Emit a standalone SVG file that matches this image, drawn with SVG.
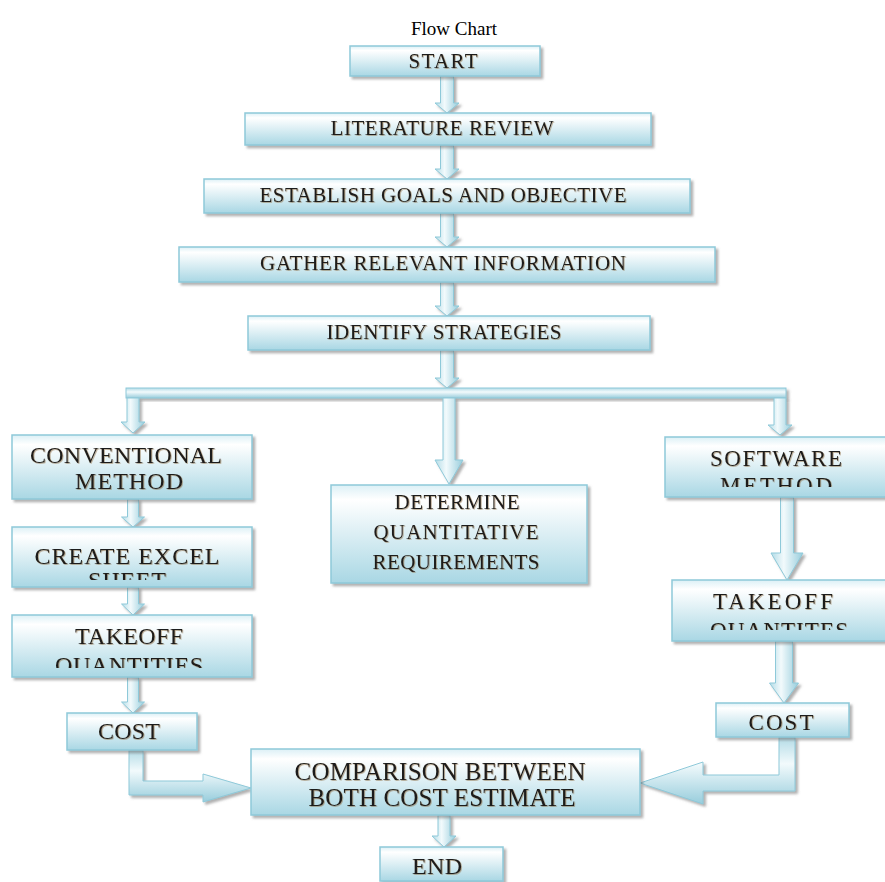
<svg xmlns="http://www.w3.org/2000/svg" width="885" height="882" viewBox="0 0 885 882">
<defs>
<linearGradient id="gBox" x1="0" y1="0" x2="0" y2="1">
<stop offset="0" stop-color="#dcf0f6"/>
<stop offset="0.15" stop-color="#ffffff"/>
<stop offset="1" stop-color="#a9d7e4"/>
</linearGradient>
<linearGradient id="gArrV" x1="0" y1="0" x2="1" y2="0">
<stop offset="0" stop-color="#b3dbe6"/>
<stop offset="0.4" stop-color="#f2fafc"/>
<stop offset="1" stop-color="#98cddc"/>
</linearGradient>
<linearGradient id="gArrH" x1="0" y1="0" x2="0" y2="1">
<stop offset="0" stop-color="#b3dbe6"/>
<stop offset="0.4" stop-color="#f2fafc"/>
<stop offset="1" stop-color="#98cddc"/>
</linearGradient>
<filter id="sh" x="-10%" y="-20%" width="130%" height="160%">
<feDropShadow dx="2.5" dy="2.5" stdDeviation="1.2" flood-color="#707070" flood-opacity="0.55"/>
</filter>
<filter id="tsh" x="-5%" y="-20%" width="110%" height="150%">
<feDropShadow dx="0.8" dy="0.8" stdDeviation="0.5" flood-color="#8a6a40" flood-opacity="0.6"/>
</filter>
<clipPath id="cCreate"><rect x="12" y="527" width="240" height="53"/></clipPath>
<clipPath id="cTakeL"><rect x="12" y="615" width="240" height="53"/></clipPath>
<clipPath id="cSoft"><rect x="665" y="437" width="225" height="50"/></clipPath>
<clipPath id="cTakeR"><rect x="672" y="580" width="218" height="50"/></clipPath>
<clipPath id="cCostR"><rect x="716" y="703" width="133" height="27"/></clipPath>
</defs>
<style>
.box{fill:url(#gBox);stroke:#8ec9d9;stroke-width:1.5;filter:url(#sh)}
.arr{fill:url(#gArrV);stroke:#8ec9d9;stroke-width:1;filter:url(#sh)}
.arrh{fill:url(#gArrH);stroke:#8ec9d9;stroke-width:1;filter:url(#sh)}
text{font-family:"Liberation Serif","Times New Roman",serif;fill:#1a1a1a;text-anchor:middle}
.lbl{filter:url(#tsh)}
.t21{font-size:21px}
.t23{font-size:23px}
.t24{font-size:24px}
.t25{font-size:25px}
.title{font-size:19px;fill:#000}
</style>

<text class="title" x="454" y="35">Flow Chart</text>

<g id="connectors">
<polygon class="arr" points="440.5,76 453.5,76 453.5,103 459,103 447,113 435,103 440.5,103"/>
<polygon class="arr" points="440.5,145 453.5,145 453.5,169 459,169 447,179 435,169 440.5,169"/>
<polygon class="arr" points="440.5,213 453.5,213 453.5,237 459,237 447,247 435,237 440.5,237"/>
<polygon class="arr" points="440.5,282 453.5,282 453.5,306 459,306 447,316 435,306 440.5,306"/>
<polygon class="arr" points="440.5,350 453.5,350 453.5,378 459,378 447,388 435,378 440.5,378"/>
<rect class="arrh" x="126" y="388" width="660" height="10"/>
<polygon class="arr" points="127,398 139,398 139,422 145,422 133,433 121,422 127,422"/>
<polygon class="arr" points="443,398 455,398 455,460 463,460 449,484 435,460 443,460"/>
<polygon class="arr" points="774,398 786,398 786,425 792,425 780,435 768,425 774,425"/>
<polygon class="arr" points="127.5,499 138.5,499 138.5,517 144.5,517 133,527 121.5,517 127.5,517"/>
<polygon class="arr" points="127.5,587 138.5,587 138.5,604 144.5,604 133,615 121.5,604 127.5,604"/>
<polygon class="arr" points="127.5,677 138.5,677 138.5,702 144.5,702 133,713 121.5,702 127.5,702"/>
<polygon class="arr" points="780.5,497 793.5,497 793.5,553 803,553 787,580 771,553 780.5,553"/>
<polygon class="arr" points="775.5,641 792.5,641 792.5,683 798.5,683 784,703 769.5,683 775.5,683"/>
<polygon class="arr" points="438,815 450,815 450,836 456,836 444,847 432,836 438,836"/>
<path class="arrh" d="M129,750 H143 V781 H203 V774 L251,788 L203,802 V795 H129 Z"/>
<path class="arrh" d="M779,737 H795 V791 H703 V804 L640,783 L703,762 V775 H779 Z"/>
</g>

<g id="start"><rect class="box" x="350" y="46" width="190" height="30"/>
<text class="t21 lbl" x="443" y="68" textLength="69" lengthAdjust="spacing">START</text></g>

<g id="literature"><rect class="box" x="245" y="113" width="406" height="32"/>
<text class="t21 lbl" x="442" y="135" textLength="223" lengthAdjust="spacing">LITERATURE REVIEW</text></g>

<g id="establish"><rect class="box" x="204" y="179" width="486" height="34"/>
<text class="t21 lbl" x="443" y="202" textLength="367" lengthAdjust="spacing">ESTABLISH GOALS AND OBJECTIVE</text></g>

<g id="gather"><rect class="box" x="179" y="247" width="536" height="35"/>
<text class="t21 lbl" x="443" y="270" textLength="366" lengthAdjust="spacing">GATHER RELEVANT INFORMATION</text></g>

<g id="identify"><rect class="box" x="248" y="316" width="402" height="34"/>
<text class="t21 lbl" x="444" y="339" textLength="235" lengthAdjust="spacing">IDENTIFY STRATEGIES</text></g>

<g id="conventional"><rect class="box" x="12" y="435" width="240" height="64"/>
<text class="t24 lbl" x="126" y="463" textLength="192" lengthAdjust="spacing">CONVENTIONAL</text>
<text class="t24 lbl" x="129" y="489" textLength="108" lengthAdjust="spacing">METHOD</text></g>

<g id="determine"><rect class="box" x="331" y="485" width="256" height="98"/>
<text class="t21 lbl" x="457" y="509" textLength="125" lengthAdjust="spacing">DETERMINE</text>
<text class="t21 lbl" x="456" y="539" textLength="165" lengthAdjust="spacing">QUANTITATIVE</text>
<text class="t21 lbl" x="456" y="569" textLength="167" lengthAdjust="spacing">REQUIREMENTS</text></g>

<g id="software"><rect class="box" x="665" y="437" width="225" height="60"/>
<g clip-path="url(#cSoft)">
<text class="t23 lbl" x="776" y="466" textLength="132" lengthAdjust="spacing">SOFTWARE</text>
<text class="t23 lbl" x="776" y="493" textLength="112" lengthAdjust="spacing">METHOD</text></g></g>

<g id="create-excel"><rect class="box" x="12" y="527" width="240" height="60"/>
<g clip-path="url(#cCreate)">
<text class="t24 lbl" x="127" y="564" textLength="185" lengthAdjust="spacing">CREATE EXCEL</text>
<text class="t24 lbl" x="127" y="588" textLength="78" lengthAdjust="spacing">SHEET</text></g></g>

<g id="takeoff-left"><rect class="box" x="12" y="615" width="240" height="62"/>
<g clip-path="url(#cTakeL)">
<text class="t24 lbl" x="129" y="644" textLength="108" lengthAdjust="spacing">TAKEOFF</text>
<text class="t24 lbl" x="129" y="673" textLength="148" lengthAdjust="spacing">QUANTITIES</text></g></g>

<g id="takeoff-right"><rect class="box" x="672" y="580" width="218" height="61"/>
<g clip-path="url(#cTakeR)">
<text class="t23 lbl" x="773" y="609" textLength="120" lengthAdjust="spacing">TAKEOFF</text>
<text class="t23 lbl" x="779" y="638" textLength="138" lengthAdjust="spacing">QUANTITES</text></g></g>

<g id="cost-left"><rect class="box" x="67" y="713" width="130" height="37"/>
<text class="t24 lbl" x="129" y="739" textLength="62" lengthAdjust="spacing">COST</text></g>

<g id="cost-right"><rect class="box" x="716" y="703" width="133" height="34"/>
<g clip-path="url(#cCostR)">
<text class="t23 lbl" x="781" y="730" textLength="65" lengthAdjust="spacing">COST</text></g></g>

<g id="comparison"><rect class="box" x="251" y="749" width="389" height="66"/>
<text class="t25 lbl" x="440" y="780" textLength="291" lengthAdjust="spacing">COMPARISON BETWEEN</text>
<text class="t25 lbl" x="442" y="806" textLength="267" lengthAdjust="spacing">BOTH COST ESTIMATE</text></g>

<g id="end"><rect class="box" x="380" y="847" width="123" height="34"/>
<text class="t24 lbl" x="437" y="874" textLength="50" lengthAdjust="spacing">END</text></g>
</svg>
